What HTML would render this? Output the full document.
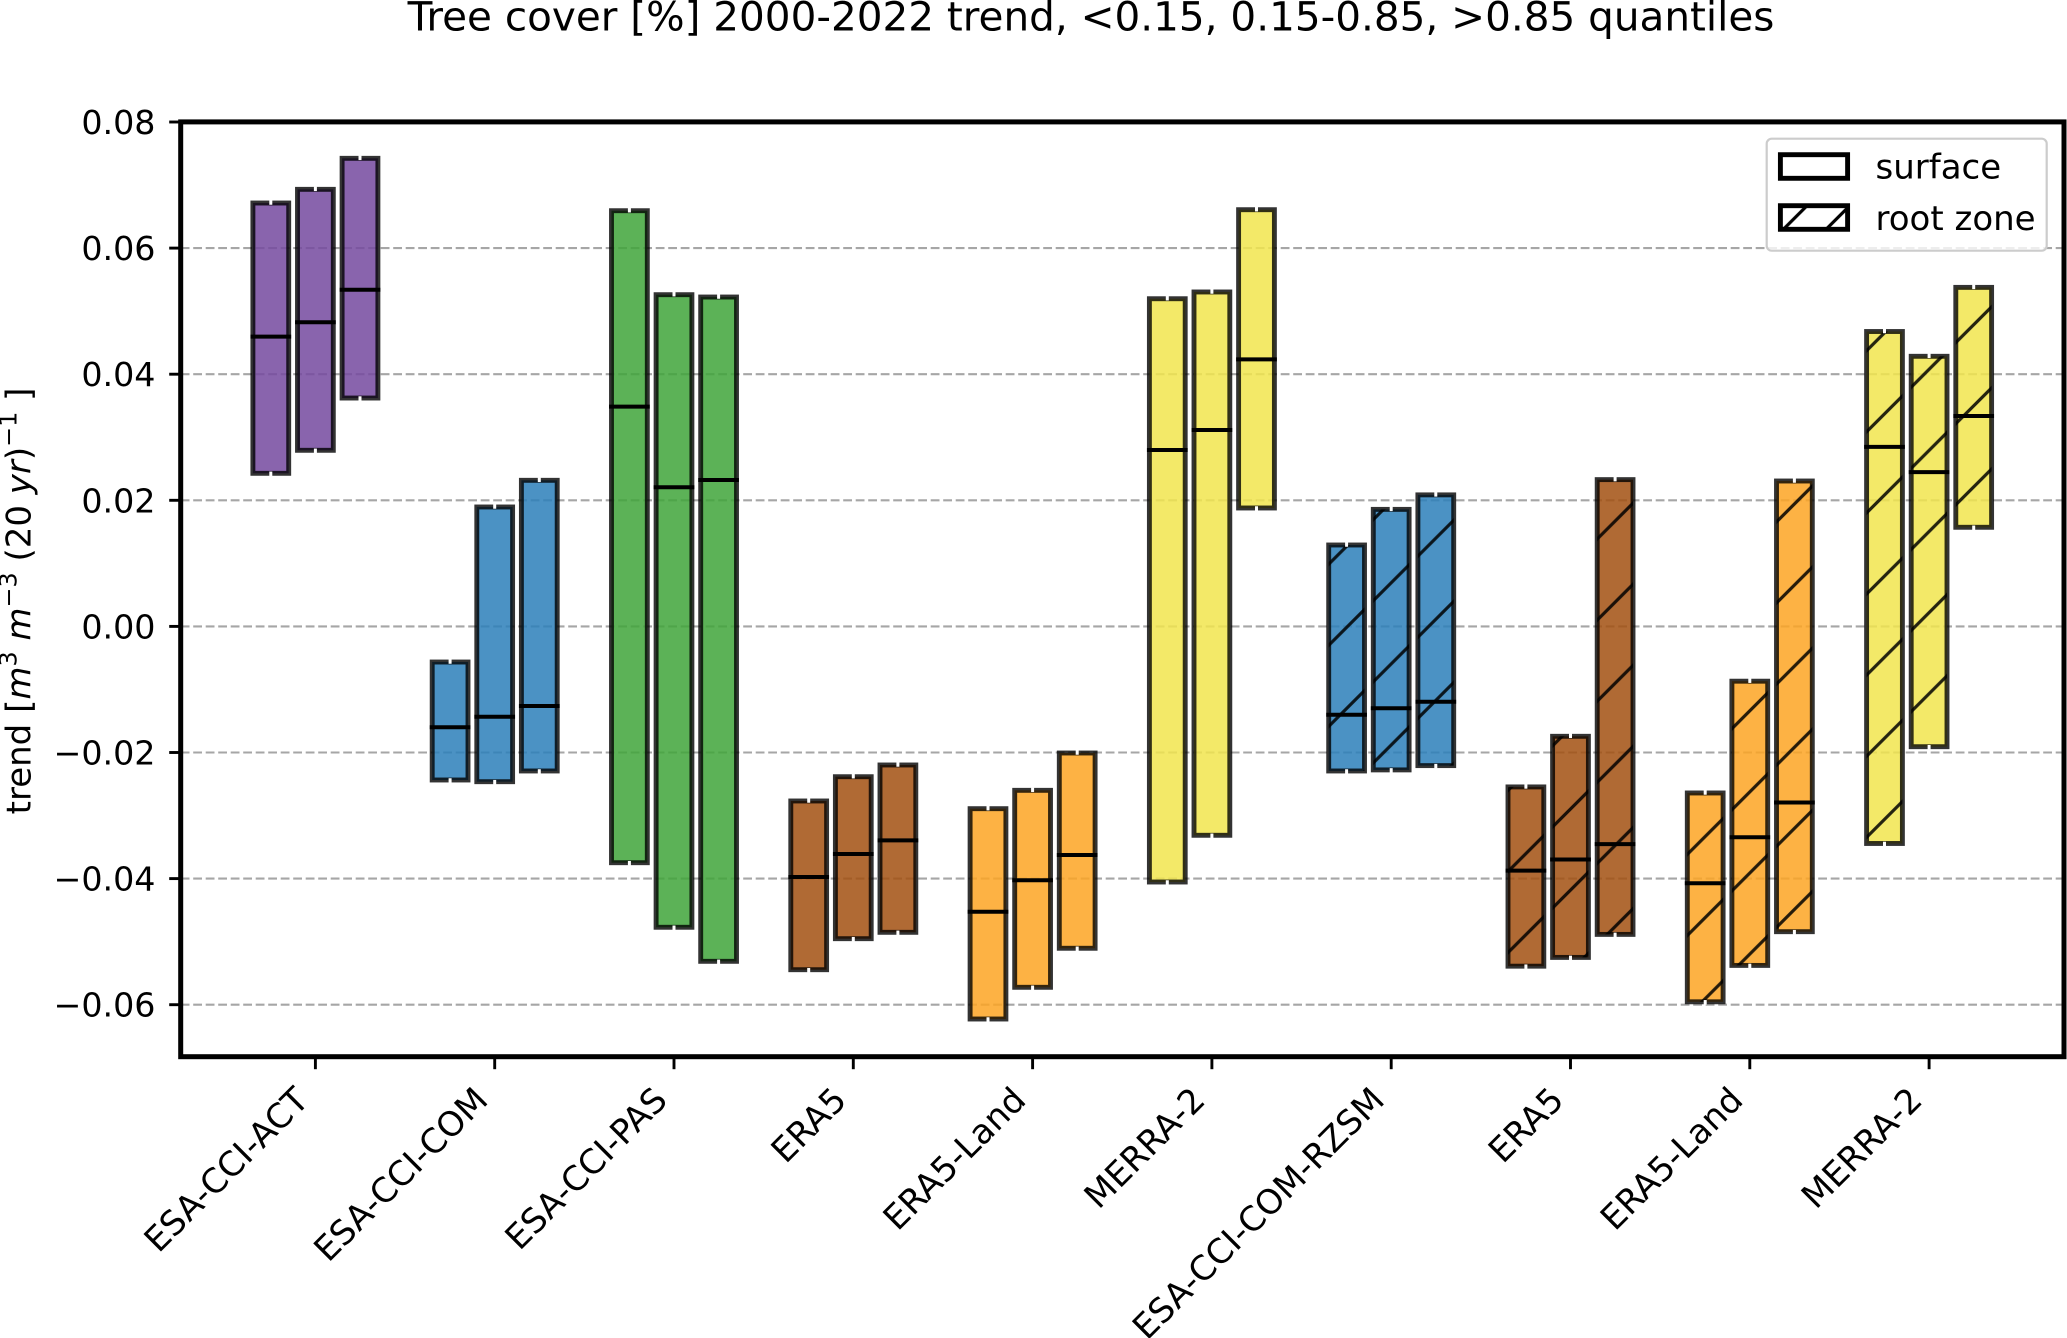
<!DOCTYPE html>
<html lang="en">
<head>
<meta charset="utf-8">
<title>Tree cover trend chart</title>
<style>
html,body{margin:0;padding:0;background:#fff;}
svg{display:block;}
text{font-family:"DejaVu Sans",sans-serif;fill:#000;}
</style>
</head>
<body>
<svg id="chart" xmlns="http://www.w3.org/2000/svg" width="2067" height="1338" viewBox="0 0 2067 1338">
  <defs>
    <pattern id="hatch" patternUnits="userSpaceOnUse" width="81.1" height="81.1" patternTransform="translate(27.6 0)">
      <path d="M-5,86.1 L86.1,-5 M-5,5 L5,-5 M76.1,86.1 L86.1,76.1" stroke="#000" stroke-opacity="0.85" stroke-width="3.2" fill="none"/>
    </pattern>
    <pattern id="legend-hatch" patternUnits="userSpaceOnUse" width="42.7" height="42.7" patternTransform="translate(5.8 0)">
      <path d="M-5,47.7 L47.7,-5 M-5,5 L5,-5 M37.7,47.7 L47.7,37.7" stroke="#000" stroke-width="3.2" fill="none"/>
    </pattern>
  </defs>
  <rect x="0" y="0" width="2067" height="1338" fill="#fff"/>
  <text x="1091" y="30.5" font-size="40.5" text-anchor="middle">Tree cover [%] 2000-2022 trend, &lt;0.15, 0.15-0.85, &gt;0.85 quantiles</text>
  <g id="grid"></g>
  <g id="bars"></g>
  <g id="axes"></g>
  <text transform="translate(30.5 601) rotate(-90)" font-size="34" text-anchor="middle">trend [<tspan font-style="italic">m</tspan><tspan font-size="23.8" dy="-14">3</tspan><tspan dy="14"> </tspan><tspan font-style="italic">m</tspan><tspan font-size="23.8" dy="-14">−3</tspan><tspan dy="14"> (20 </tspan><tspan font-style="italic">yr</tspan>)<tspan font-size="23.8" dy="-14">−1</tspan><tspan dy="14"> ]</tspan></text>
  <g>
    <rect x="1766.7" y="138.7" width="280" height="112" rx="5" ry="5" fill="#fff" fill-opacity="0.8" stroke="#ccc" stroke-width="2.2"/>
    <rect x="1780.4" y="154.7" width="67.2" height="23.6" fill="#fff" stroke="#000" stroke-width="4.9"/>
    <text x="1875.5" y="178.3" font-size="34">surface</text>
    <rect x="1780.4" y="205.7" width="67.2" height="23.6" fill="#fff"/>
    <rect x="1780.4" y="205.7" width="67.2" height="23.6" fill="url(#legend-hatch)" stroke="#000" stroke-width="4.9"/>
    <text x="1875.5" y="230" font-size="34">root zone</text>
  </g>
</svg>
<script>
const categories = ["ESA-CCI-ACT","ESA-CCI-COM","ESA-CCI-PAS","ERA5","ERA5-Land","MERRA-2","ESA-CCI-COM-RZSM","ERA5","ERA5-Land","MERRA-2"];
const yTicks = [0.08,0.06,0.04,0.02,0,-0.02,-0.04,-0.06];
const yTickLabels = ["0.08","0.06","0.04","0.02","0.00","−0.02","−0.04","−0.06"];
const gridTicks = [0.06,0.04,0.02,0,-0.02,-0.04,-0.06];
const barColors = ["#74499f","#2b7fba","#3fa539","#a25010","#fda523","#f1e54d","#2b7fba","#a25010","#fda523","#f1e54d"];
const rootZone = [false,false,false,false,false,false,true,true,true,true];
/* each row: one category; columns: <0.15, 0.15-0.85, >0.85 quantile groups */
const upperValues = [
  [0.06715,0.06932,0.07424],
  [-0.00565,0.01894,0.02317],
  [0.06593,0.05261,0.05224],
  [-0.02769,-0.02384,-0.02198],
  [-0.02891,-0.02600,-0.02008],
  [0.05197,0.05304,0.06609],
  [0.01291,0.01856,0.02086],
  [-0.02546,-0.01743,0.02328],
  [-0.02642,-0.00869,0.02306],
  [0.04677,0.04284,0.05377]
];
const medianValues = [
  [0.04595,0.04823,0.05340],
  [-0.01600,-0.01432,-0.01262],
  [0.03485,0.02206,0.02322],
  [-0.03975,-0.03610,-0.03393],
  [-0.04525,-0.04027,-0.03626],
  [0.02798,0.03115,0.04236],
  [-0.01402,-0.01299,-0.01196],
  [-0.03873,-0.03697,-0.03454],
  [-0.04073,-0.03345,-0.02793],
  [0.02847,0.02447,0.03337]
];
const lowerValues = [
  [0.02428,0.02793,0.03622],
  [-0.02436,-0.02463,-0.02293],
  [-0.03748,-0.04772,-0.05312],
  [-0.05445,-0.04953,-0.04852],
  [-0.06227,-0.05724,-0.05105],
  [-0.04054,-0.03313,0.01878],
  [-0.02293,-0.02276,-0.02208],
  [-0.05389,-0.05250,-0.04885],
  [-0.05954,-0.05377,-0.04842],
  [-0.03443,-0.01908,0.01572]
];

const NS = "http://www.w3.org/2000/svg";
const plot = {left:180.7, right:2064, top:121.9, bottom:1056.7};
const barWidth = 35.8, barStep = 44.6, barStroke = 4.9;
function xScale(i){ return 315.4 + 179.3*i; }
function yScale(v){ return 626.4 - v*6305; }
function make(tag, attrs, parent){
  const node = document.createElementNS(NS, tag);
  for (const k in attrs) node.setAttribute(k, attrs[k]);
  parent.appendChild(node);
  return node;
}

const gridG = document.getElementById("grid");
gridTicks.forEach(function(t){
  const y = yScale(t);
  const el = make("line",{x1:plot.left,x2:plot.right,y1:y,y2:y,stroke:"#a6a6a6","stroke-width":2.1,"stroke-dasharray":"8.8 3.7"},gridG);
  
  
});

const barsG = document.getElementById("bars");
categories.forEach(function(cat,i){
  const group = make("g",{},barsG);
  
  
  [0,1,2].forEach(function(j){
    const cx = xScale(i) + (j-1)*barStep;
    const yTop = yScale(upperValues[i][j]);
    const yBot = yScale(lowerValues[i][j]);
    const yMed = yScale(medianValues[i][j]);
    const x0 = cx - barWidth/2;
    const fill = make("rect",{x:x0,y:yTop,width:barWidth,height:yBot-yTop,fill:barColors[i],"fill-opacity":0.85},group);
    
    
    if (rootZone[i]) {
      const hatch = make("rect",{x:x0,y:yTop,width:barWidth,height:yBot-yTop,fill:"url(#hatch)"},group);
      
      
    }
    const edge = make("rect",{x:x0,y:yTop,width:barWidth,height:yBot-yTop,fill:"none",stroke:"#000","stroke-opacity":0.8,"stroke-width":barStroke},group);
    
    
    const notchTop = make("rect",{x:cx-1.5,y:yTop-barStroke/2-0.3,width:3,height:barStroke-0.4,fill:"#fff"},group);
    
    
    const notchBot = make("rect",{x:cx-1.5,y:yBot-barStroke/2+0.7,width:3,height:barStroke-0.4,fill:"#fff"},group);
    
    
    const med = make("line",{x1:x0-barStroke/2,x2:x0+barWidth+barStroke/2,y1:yMed,y2:yMed,stroke:"#000","stroke-width":4},group);
    
    
  });
});

const axesG = document.getElementById("axes");
yTicks.forEach(function(t,k){
  const y = yScale(t);
  const tick = make("line",{x1:plot.left-11.5,x2:plot.left,y1:y,y2:y,stroke:"#000","stroke-width":2.9},axesG);
  
  
  const label = make("text",{x:155.5,y:y+12,"font-size":33.3,"text-anchor":"end"},axesG);
  label.textContent = yTickLabels[k];
  
  
});
categories.forEach(function(cat,i){
  const x = xScale(i);
  const tick = make("line",{x1:x,x2:x,y1:plot.bottom,y2:plot.bottom+12.5,stroke:"#000","stroke-width":2.9},axesG);
  
  
  const ax = x - 5, ay = 1102;
  const label = make("text",{x:ax,y:ay,"font-size":34,"text-anchor":"end",transform:"rotate(-45 "+ax+" "+ay+")"},axesG);
  label.textContent = cat;
  
  
});
const frame = make("rect",{x:plot.left,y:plot.top,width:plot.right-plot.left,height:plot.bottom-plot.top,fill:"none",stroke:"#000","stroke-width":5},axesG);


</script>
</body>
</html>
